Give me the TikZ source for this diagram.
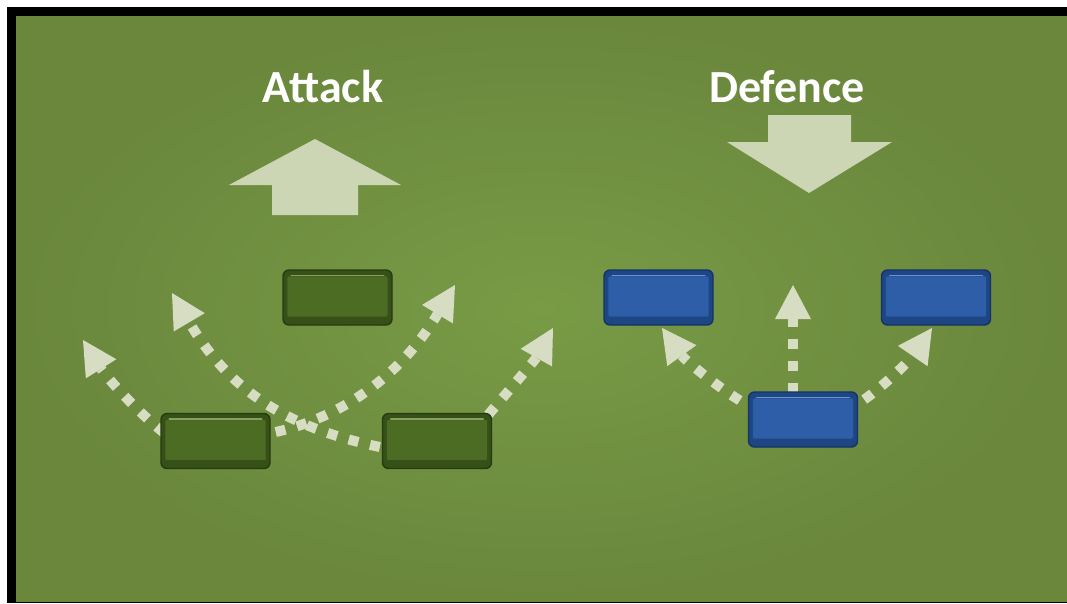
\documentclass[tikz,border=0pt]{standalone}
\usepackage{fontspec}
\setmainfont{Carlito}
\usetikzlibrary{arrows.meta,calc}
\pgfdeclarelayer{bg}
\pgfsetlayers{bg,main}
\definecolor{field}{RGB}{106,135,60}
\definecolor{fieldlight}{RGB}{120,155,70}
\definecolor{dotc}{RGB}{214,221,194}
\definecolor{bigc}{RGB}{205,214,180}
\definecolor{gedge}{RGB}{40,58,18}
\definecolor{gbevel}{RGB}{54,80,24}
\definecolor{gmain}{RGB}{76,108,35}
\definecolor{glight}{RGB}{134,160,96}
\definecolor{bedge}{RGB}{22,50,104}
\definecolor{bbevel}{RGB}{30,70,130}
\definecolor{bmain}{RGB}{46,94,168}
\definecolor{blight}{RGB}{104,148,214}
\newcommand\bevelbox[3]{%
  \fill[#2, rounded corners=2pt] ($(#1.north west)+(5,7)$) rectangle ($(#1.south east)+(-5,-9)$);
  \draw[#3, line width=1.6pt, line cap=round] ($(#1.north west)+(9,6)$) -- ($(#1.north east)+(-9,6)$);
}
\begin{document}
\begin{tikzpicture}[x=1pt,y=-1pt,
  box/.style={rectangle, rounded corners=6pt, minimum width=109pt, minimum height=55pt, inner sep=0pt, line width=1.4pt},
  gbox/.style={box, fill=gbevel, draw=gedge},
  bbox/.style={box, fill=bbevel, draw=bedge},
  mv/.style={draw=dotc, line width=10pt, dash pattern=on 10pt off 12pt, -{Triangle[length=34pt,width=36pt,line width=0pt]}},
  title/.style={text=white, font=\bfseries\fontsize{46}{50}\selectfont, inner sep=0pt},
  bigarrow/.style={fill=bigc}]
\useasboundingbox (0,0) rectangle (1067,603);
\begin{pgfonlayer}{bg}
  \fill[white] (0,0) rectangle (1067,603);
  \fill[black] (7,7) rectangle (1067,603);
  \shade[inner color=fieldlight, outer color=field] (16,16) rectangle (1067,601);
\end{pgfonlayer}

% titles
\node[title] (tA) at (323,87) {Attack};
\node[title] (tD) at (787,87) {Defence};

% big arrows
\fill[bigarrow] (272,215) -- (272,185) -- (229,185) -- (315,139) -- (401,185) -- (358,185) -- (358,215) -- cycle;
\fill[bigarrow] (768,115) -- (851,115) -- (851,142) -- (892,142) -- (809,193) -- (727,142) -- (768,142) -- cycle;

% attack players
\node[gbox] (At) at (337.5,297.5) {};
\node[gbox] (Al) at (215.5,441) {};
\node[gbox] (Ar) at (437,441) {};
% defence players
\node[bbox] (Dl) at (658.5,297.5) {};
\node[bbox] (Dr) at (936,297.5) {};
\node[bbox] (Db) at (803,419.5) {};

\bevelbox{At}{gmain}{glight}
\bevelbox{Al}{gmain}{glight}
\bevelbox{Ar}{gmain}{glight}
\bevelbox{Dl}{bmain}{blight}
\bevelbox{Dr}{bmain}{blight}
\bevelbox{Db}{bmain}{blight}

% free ends
\coordinate (e1) at (83,340);
\coordinate (e2) at (172,293);
\coordinate (e3) at (455,285);
\coordinate (e4) at (553,328);
\coordinate (f1) at (662,328);
\coordinate (f2) at (793,285);
\coordinate (f3) at (932,328);

\begin{pgfonlayer}{bg}
  \draw[mv] ($(Al.west)+(4,-8)$) .. controls (135,410) and (105,375) .. (e1);
  \draw[mv] ($(Ar.west)+(-2,6)$) .. controls (300,430) and (235,400) .. (e2);
  \draw[mv] ($(Al.east)+(5,-9)$) .. controls (330,420) and (395,385) .. (e3);
  \draw[mv] ($(Ar.north east)+(-4,2)$) .. controls (505,395) and (535,360) .. (e4);
  \draw[mv] ($(Db.west)+(-8,-19)$) .. controls (715,385) and (685,360) .. (f1);
  \draw[mv] ($(Db.north)+(-10,2)$) -- (f2);
  \draw[mv] ($(Db.east)+(6,-20)$) .. controls (885,385) and (910,360) .. (f3);
\end{pgfonlayer}
\end{tikzpicture}
\end{document}
